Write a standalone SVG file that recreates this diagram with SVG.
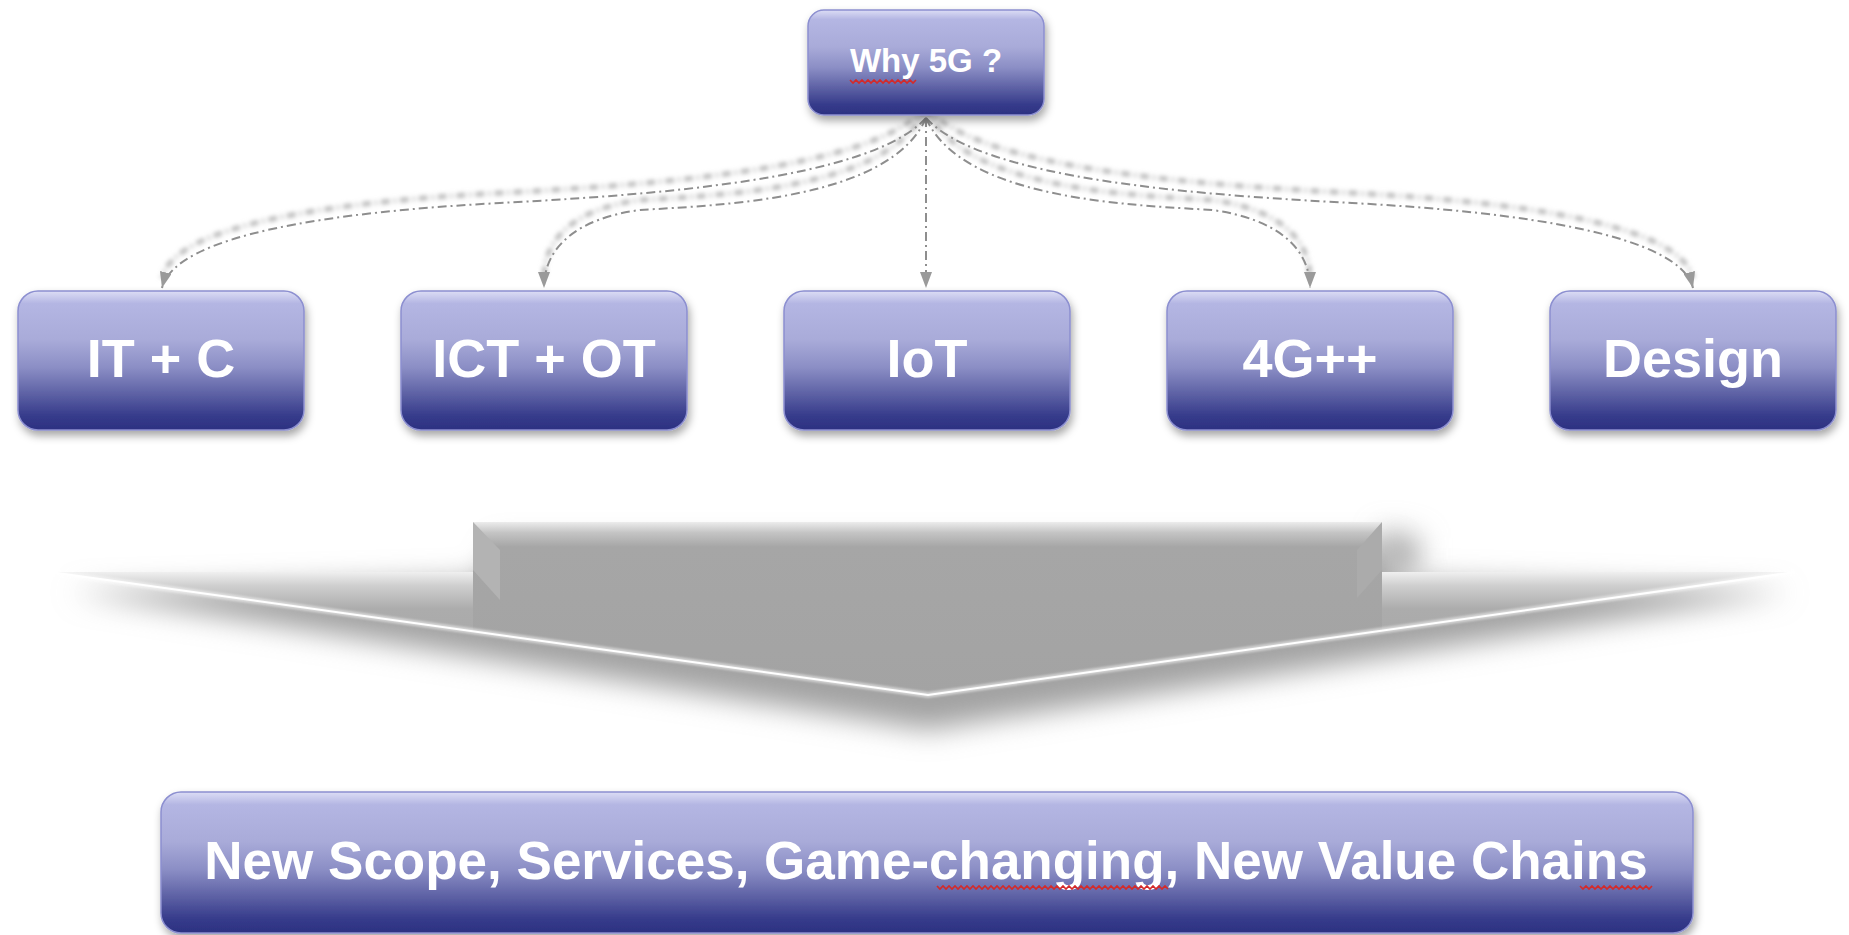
<svg xmlns="http://www.w3.org/2000/svg" width="1849" height="935" viewBox="0 0 1849 935">
<defs>
<style>
.box{fill:url(#boxGrad);stroke:#8c8fd0;stroke-width:1.5;filter:url(#boxShadow)}
.lbl{font-family:"Liberation Sans",Arial,sans-serif;font-weight:bold;fill:#ffffff;text-anchor:middle}
.big{font-size:54px}
.conn{fill:none;stroke:#8e8e8e;stroke-width:2;stroke-dasharray:9 4 2 4;marker-end:url(#arr)}
.connSh{fill:none;stroke:#bdbdbd;stroke-width:5;stroke-dasharray:9 4 2 4;filter:url(#soft)}
.squig{fill:none;stroke:#d42a2a;stroke-width:1.6}
</style>
<linearGradient id="boxGrad" x1="0" y1="0" x2="0" y2="1">
<stop offset="0" stop-color="#dcddf5"/>
<stop offset="0.09" stop-color="#b4b6e3"/>
<stop offset="0.35" stop-color="#a9abd9"/>
<stop offset="0.55" stop-color="#8b8ec5"/>
<stop offset="0.75" stop-color="#5b5fa3"/>
<stop offset="0.9" stop-color="#363b8b"/>
<stop offset="1" stop-color="#2c3181"/>
</linearGradient>
<linearGradient id="bandGrad" gradientUnits="userSpaceOnUse" x1="0" y1="522" x2="0" y2="700">
<stop offset="0" stop-color="#ececec"/>
<stop offset="0.06" stop-color="#c4c4c4"/>
<stop offset="0.14" stop-color="#a6a6a6"/>
<stop offset="1" stop-color="#a3a3a3"/>
</linearGradient>
<linearGradient id="wingGrad" gradientUnits="userSpaceOnUse" x1="0" y1="570" x2="0" y2="700">
<stop offset="0" stop-color="#f4f4f4"/>
<stop offset="0.12" stop-color="#cfcfcf"/>
<stop offset="0.3" stop-color="#acacac"/>
<stop offset="1" stop-color="#a4a4a4"/>
</linearGradient>
<clipPath id="chevClip">
<polygon points="50,572 473,572 473,522 1382,522 1382,572 1795,572 928,695"/>
</clipPath>
<filter id="boxShadow" x="-10%" y="-20%" width="120%" height="150%">
<feDropShadow dx="2" dy="5" stdDeviation="4" flood-color="#000" flood-opacity="0.35"/>
</filter>
<filter id="soft" x="-10%" y="-10%" width="120%" height="120%">
<feGaussianBlur stdDeviation="2"/>
</filter>
<filter id="bigBlur" filterUnits="userSpaceOnUse" x="0" y="440" width="1849" height="400">
<feGaussianBlur stdDeviation="14"/>
</filter>
<filter id="lineBlur" filterUnits="userSpaceOnUse" x="0" y="500" width="1849" height="260">
<feGaussianBlur stdDeviation="1.2"/>
</filter>
<marker id="arr" markerUnits="userSpaceOnUse" viewBox="0 0 16 12" refX="16" refY="6" markerWidth="16" markerHeight="12" orient="auto">
<path d="M0,0 L16,6 L0,12 Z" fill="#9a9a9a"/>
</marker>
</defs>
<rect width="1849" height="935" fill="#ffffff"/>

<g id="arrow-down">
<polygon points="70,592 928,730 1790,592 1395,580 1395,545 500,545 480,580" fill="#a2a2a2" filter="url(#bigBlur)"/>
<polygon points="1382,530 1420,538 1420,572 1382,572" fill="#b0b0b0" filter="url(#bigBlur)"/>
<polygon points="50,572 1795,572 928,695" fill="url(#wingGrad)"/>
<rect x="473" y="522" width="909" height="200" fill="url(#bandGrad)" clip-path="url(#chevClip)"/>
<polygon points="473,522 473,570 500,600 500,550" fill="#b3b3b3"/>
<polygon points="1382,522 1382,570 1357,598 1357,550" fill="#ababab"/>
<polyline points="50,572 928,695 1795,572" fill="none" stroke="#ffffff" stroke-width="6" opacity="0.5" filter="url(#lineBlur)"/>
<polyline points="50,572 928,695 1795,572" fill="none" stroke="#ffffff" stroke-width="2"/>
</g>

<g id="connectors">
<path class="connSh" transform="translate(0,-10)" d="M926,118 C870,180 650,195 500,203 C330,212 175,235 162,288"/>
<path class="connSh" transform="translate(0,-10)" d="M926,118 C890,200 720,205 640,210 C580,218 544,245 544,288"/>
<path class="connSh" transform="translate(0,-10)" d="M926,118 L926,288"/>
<path class="connSh" transform="translate(0,-10)" d="M926,118 C962,200 1132,205 1212,210 C1272,218 1310,245 1310,288"/>
<path class="connSh" transform="translate(0,-10)" d="M926,118 C982,180 1202,195 1352,203 C1522,212 1680,235 1693,288"/>
<path class="conn" d="M926,118 C870,180 650,195 500,203 C330,212 175,235 162,288"/>
<path class="conn" d="M926,118 C890,200 720,205 640,210 C580,218 544,245 544,288"/>
<path class="conn" d="M926,118 L926,288"/>
<path class="conn" d="M926,118 C962,200 1132,205 1212,210 C1272,218 1310,245 1310,288"/>
<path class="conn" d="M926,118 C982,180 1202,195 1352,203 C1522,212 1680,235 1693,288"/>
</g>

<g id="node-why5g">
<rect class="box" x="808" y="10" width="236" height="105" rx="16"/>
<text class="lbl" x="926" y="72" font-size="33">Why 5G ?</text>
<path class="squig" d="M850,80 l3,3 l3,-3 l3,3 l3,-3 l3,3 l3,-3 l3,3 l3,-3 l3,3 l3,-3 l3,3 l3,-3 l3,3 l3,-3 l3,3 l3,-3 l3,3 l3,-3 l3,3 l3,-3 l3,3 l3,-3"/>
</g>

<g id="node-itc">
<rect class="box" x="18" y="291" width="286" height="139" rx="20"/>
<text class="lbl big" x="161" y="377">IT + C</text>
</g>
<g id="node-ictot">
<rect class="box" x="401" y="291" width="286" height="139" rx="20"/>
<text class="lbl big" x="544" y="377">ICT + OT</text>
</g>
<g id="node-iot">
<rect class="box" x="784" y="291" width="286" height="139" rx="20"/>
<text class="lbl big" x="927" y="377">IoT</text>
</g>
<g id="node-4g">
<rect class="box" x="1167" y="291" width="286" height="139" rx="20"/>
<text class="lbl big" x="1310" y="377">4G++</text>
</g>
<g id="node-design">
<rect class="box" x="1550" y="291" width="286" height="139" rx="20"/>
<text class="lbl big" x="1693" y="377">Design</text>
</g>

<g id="node-result">
<rect class="box" x="161" y="792" width="1532" height="141" rx="20"/>
<text class="lbl" x="926" y="879" font-size="53">New Scope, Services, Game-changing, New Value Chains</text>
<path class="squig" d="M937,886 l3,3 l3,-3 l3,3 l3,-3 l3,3 l3,-3 l3,3 l3,-3 l3,3 l3,-3 l3,3 l3,-3 l3,3 l3,-3 l3,3 l3,-3 l3,3 l3,-3 l3,3 l3,-3 l3,3 l3,-3 l3,3 l3,-3 l3,3 l3,-3 l3,3 l3,-3 l3,3 l3,-3 l3,3 l3,-3 l3,3 l3,-3 l3,3 l3,-3 l3,3 l3,-3 l3,3 l3,-3 l3,3 l3,-3 l3,3 l3,-3 l3,3 l3,-3 l3,3 l3,-3 l3,3 l3,-3 l3,3 l3,-3 l3,3 l3,-3 l3,3 l3,-3 l3,3 l3,-3 l3,3 l3,-3 l3,3 l3,-3 l3,3 l3,-3 l3,3 l3,-3 l3,3 l3,-3 l3,3 l3,-3 l3,3 l3,-3 l3,3 l3,-3 l3,3 l3,-3 l3,3"/>
<path class="squig" d="M1580,886 l3,3 l3,-3 l3,3 l3,-3 l3,3 l3,-3 l3,3 l3,-3 l3,3 l3,-3 l3,3 l3,-3 l3,3 l3,-3 l3,3 l3,-3 l3,3 l3,-3 l3,3 l3,-3 l3,3 l3,-3 l3,3 l3,-3"/>
</g>
</svg>
